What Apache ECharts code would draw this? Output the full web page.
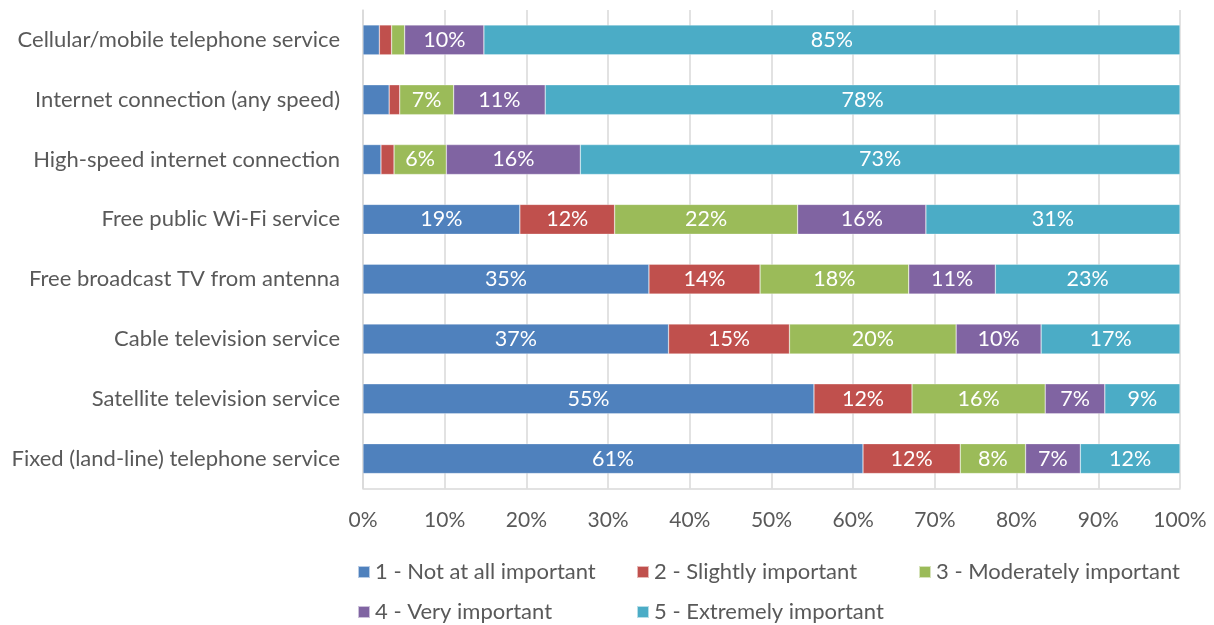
<!DOCTYPE html>
<html>
<head>
<meta charset="utf-8">
<script src="https://cdn.jsdelivr.net/npm/echarts@6/dist/echarts.min.js"></script>
<style>
  html, body { margin: 0; padding: 0; background: #fff; }
  #chart { width: 1214px; height: 625px; }
</style>
</head>
<body>
<div id="chart"></div>
<script>
// Services, top to bottom
const categories = [
  'Cellular/mobile telephone service',
  'Internet connection (any speed)',
  'High-speed internet connection',
  'Free public Wi-Fi service',
  'Free broadcast TV from antenna',
  'Cable television service',
  'Satellite television service',
  'Fixed (land-line) telephone service'
];

const seriesNames = [
  '1 - Not at all important',
  '2 - Slightly important',
  '3 - Moderately important',
  '4 - Very important',
  '5 - Extremely important'
];

// Share of respondents (%) per rating, one array per rating
const notAtAll    = [2.0, 3.2, 2.2, 19.2, 35.0, 37.4, 55.2, 61.2];
const slightly    = [1.5, 1.3, 1.6, 11.6, 13.6, 14.8, 12.0, 11.9];
const moderately  = [1.6, 6.6, 6.4, 22.4, 18.2, 20.4, 16.3, 8.0];
const very        = [9.7, 11.2, 16.4, 15.7, 10.6, 10.4, 7.3, 6.7];
const extremely   = [85.2, 77.7, 73.4, 31.1, 22.6, 17.0, 9.2, 12.2];

const xTicks = ['0%', '10%', '20%', '30%', '40%', '50%', '60%', '70%', '80%', '90%', '100%'];

const seriesValues = [notAtAll, slightly, moderately, very, extremely];
const colors = ['#4F81BD', '#C0504D', '#9BBB59', '#8064A2', '#4BACC6'];

const FONT = 'Lato, "Open Sans", sans-serif';
const TEXT = '#595959';

const chart = echarts.init(document.getElementById('chart'), null, { renderer: 'canvas' });

const series = seriesNames.map((name, i) => ({
  name,
  type: 'bar',
  stack: 'total',
  barWidth: '50%',
  data: seriesValues[i],
  itemStyle: { color: colors[i], borderColor: 'rgba(255,255,255,0.6)', borderWidth: 0.5 },
  label: {
    show: true,
    position: 'inside',
    color: '#fff',
    fontFamily: FONT,
    fontSize: 21.5,
    formatter: p => (p.value >= 4 ? Math.round(p.value) + '%' : '')
  },
  emphasis: { disabled: true }
}));

// one legend block per rating, laid out in two rows
const legendSpots = [
  { left: 357, top: 561 },
  { left: 636, top: 561 },
  { left: 918, top: 561 },
  { left: 357, top: 601 },
  { left: 636, top: 601 }
];
const legends = seriesNames.map((name, i) => ({
  data: [name],
  left: legendSpots[i].left,
  top: legendSpots[i].top,
  padding: 0,
  icon: 'rect',
  itemWidth: 12,
  itemHeight: 12,
  itemGap: 0,
  selectedMode: false,
  textStyle: { color: TEXT, fontFamily: FONT, fontSize: 22 }
}));

chart.setOption({
  animation: false,
  backgroundColor: '#fff',
  grid: { left: 363, right: 34, top: 10, bottom: 136.5, containLabel: false },
  legend: legends,
  xAxis: {
    type: 'value',
    min: 0,
    max: 100,
    interval: 10,
    axisLine: { show: true, lineStyle: { color: '#d9d9d9', width: 1.5 } },
    axisTick: { show: false },
    splitLine: { show: true, lineStyle: { color: '#d9d9d9', width: 1.5 } },
    axisLabel: {
      color: TEXT,
      fontFamily: FONT,
      fontSize: 21,
      margin: 21,
      formatter: v => xTicks[Math.round(v / 10)]
    }
  },
  yAxis: {
    type: 'category',
    inverse: true,
    data: categories,
    axisLine: { show: true, lineStyle: { color: '#d9d9d9', width: 1.5 } },
    axisTick: { show: false },
    axisLabel: { color: TEXT, fontFamily: FONT, fontSize: 22, margin: 23 }
  },
  series
});
</script>
</body>
</html>
